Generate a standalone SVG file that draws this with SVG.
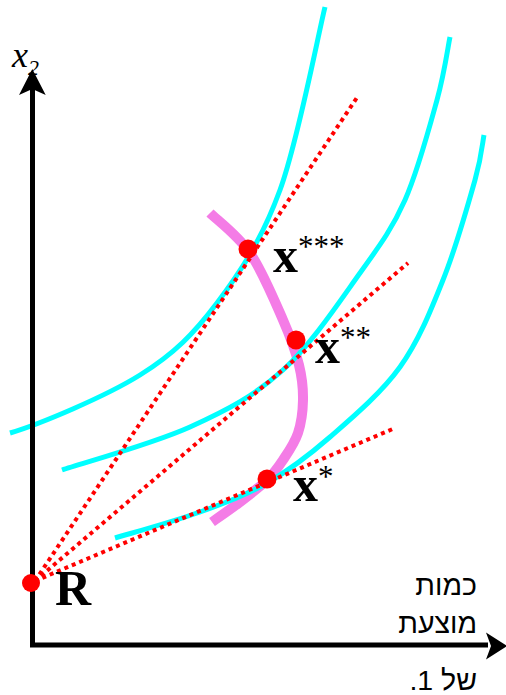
<svg xmlns="http://www.w3.org/2000/svg" width="506" height="695" viewBox="0 0 506 695">
<style>
.ic{fill:none;stroke:#00FFFF;stroke-width:5}
.exp{fill:none;stroke:#F47CE6;stroke-width:10}
.ray{fill:none;stroke:#FF0000;stroke-width:4;stroke-dasharray:4 4}
.dot{fill:#FF0000}
.ax{fill:none;stroke:#000;stroke-width:5}
.head{fill:#000}
.lbl{font-family:"Liberation Serif","Times New Roman",serif;font-weight:bold;font-size:50px;fill:#000}
.star{font-weight:normal;font-size:31px}
.heb{font-family:"Liberation Sans",Arial,"DejaVu Sans",sans-serif;font-size:28.5px;fill:#000}
</style>
<rect width="506" height="695" fill="#fff"/>
<g id="expansion-path">
<path class="exp" d="M210,213 C216.7,219.7 237.8,235.2 250,253 C262.2,270.8 274.8,301.3 283,320 C291.2,338.7 295.7,351.7 299,365 C302.3,378.3 303.2,388.7 303,400 C302.8,411.3 301.3,423 298,433 C294.7,443 288.2,452.2 283,460 C277.8,467.8 274.2,473 267,480 C259.8,487 249.2,495 240,502 C230.8,509 216.7,518.7 212,522"/>
</g>
<g id="isoquants">
<path class="ic" d="M10,433 C40,424 105.5,396.5 140,375 C174.5,353.5 193.7,333.8 217,303 C240.3,272.2 262,239.3 280,190 C298,140.7 317.5,37.5 325,7"/>
<path class="ic" d="M62,470 C83.3,462.8 153.2,443.7 190,427 C226.8,410.3 254.7,395.7 283,370 C311.3,344.3 339.7,301.3 360,273 C380.3,244.7 392.2,228.8 405,200 C417.8,171.2 429.5,127.2 437,100 C444.5,72.8 447.8,47.5 450,37"/>
<path class="ic" d="M115,538 C129.2,533.7 174.7,521.2 200,512 C225.3,502.8 245.3,495.5 267,483 C288.7,470.5 307.8,456.3 330,437 C352.2,417.7 381.2,393.2 400,367 C418.8,340.8 430.5,311.2 443,280 C455.5,248.8 468.2,204.2 475,180 C481.8,155.8 482.5,142.5 484,135"/>
</g>
<g id="axis-label-x2">
<text x="12" y="67" font-family="'Liberation Serif','Times New Roman',serif" font-style="italic" font-size="36" fill="#000">x<tspan font-size="22" dy="8">2</tspan></text>
</g>
<g id="axes">
<path class="ax" d="M32.5,647 V85 M30,645 H488"/>
<path class="head" d="M32.3,69 L45.7,95 L32.3,89 L19,95 Z"/>
<path class="head" d="M507,646 L486,632.5 L491,646 L486,659.5 Z"/>
</g>
<g id="connectors">
<path class="ray" d="M35,581 L358,96"/>
<path class="ray" d="M35,581 L408,263"/>
<path class="ray" d="M35,581 L395,428"/>
</g>
<g id="node-R">
<circle class="dot" cx="31" cy="583" r="9"/>
<text class="lbl" x="55" y="605">R</text>
</g>
<g id="node-x3">
<circle class="dot" cx="248" cy="249" r="9.5"/>
<text class="lbl" x="273" y="272">x<tspan class="star" dy="-15">***</tspan></text>
</g>
<g id="node-x2">
<circle class="dot" cx="296" cy="340" r="9.5"/>
<text class="lbl" x="315" y="363">x<tspan class="star" dy="-15">**</tspan></text>
</g>
<g id="node-x1">
<circle class="dot" cx="267" cy="479" r="9.5"/>
<text class="lbl" x="293" y="501">x<tspan class="star" dy="-14">*</tspan></text>
</g>
<g id="axis-label-x1">
<text class="heb" x="477" y="595" direction="rtl" text-anchor="start">כמות</text>
<text class="heb" x="477" y="633" direction="rtl" text-anchor="start">מוצעת</text>
<text class="heb" x="477" y="690" direction="rtl" text-anchor="start">של 1.</text>
</g>
</svg>
